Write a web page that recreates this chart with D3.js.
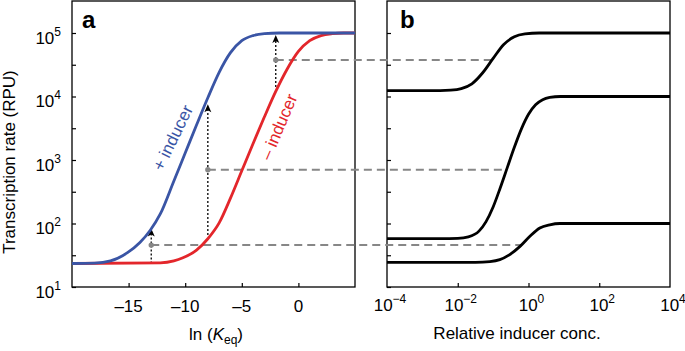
<!DOCTYPE html>
<html>
<head>
<meta charset="utf-8">
<script src="https://cdn.jsdelivr.net/npm/d3@7"></script>
<style>
  body { margin: 0; background: #fff; }
  svg { font-family: "Liberation Sans", Arial, Helvetica, sans-serif; }
</style>
</head>
<body>
<div class="container"></div>
<script>
// panel a curves: ln(Keq) vs log10 transcription rate
const blueLnK = [-20, -18, -16.6, -15.1, -14.0, -13.1, -12.2, -11.0, -10.0, -9.0, -8.0, -7.0, -6.0, -5.0, -4.0, -3.0, -1.7, 5];
const blueLog = [1.37, 1.375, 1.41, 1.54, 1.70, 1.89, 2.15, 2.67, 3.11, 3.55, 3.98, 4.38, 4.69, 4.88, 4.96, 4.99, 5.0, 5.0];
const redLnK = [-20, -12.2, -11.0, -10.2, -9.0, -8.0, -7.0, -6.0, -5.0, -4.0, -3.0, -2.0, -1.0, 0.0, 1.0, 2.0, 3.0, 4.0, 5];
const redLog = [1.37, 1.38, 1.41, 1.46, 1.58, 1.76, 2.01, 2.40, 2.83, 3.26, 3.68, 4.08, 4.43, 4.71, 4.88, 4.96, 4.99, 5.0, 5.0];

// panel b curves: log10 relative inducer conc vs log10 rate
const topConc = [-4, -2.5, -2.2, -1.9, -1.6, -1.3, -1.0, -0.7, -0.4, -0.1, 0.3, 4];
const topLog = [4.093, 4.094, 4.10, 4.125, 4.20, 4.37, 4.60, 4.82, 4.94, 4.985, 5.0, 5.0];
const midConc = [-4, -2.5, -2.0, -1.7, -1.4, -1.2, -1.0, -0.8, -0.6, -0.4, -0.2, 0.0, 0.2, 0.4, 0.6, 0.9, 4];
const midLog = [1.761, 1.762, 1.767, 1.79, 1.88, 2.03, 2.26, 2.56, 2.88, 3.20, 3.49, 3.72, 3.87, 3.95, 3.985, 4.0, 4.0];
const lowConc = [-4, -1.5, -1.09, -0.81, -0.53, -0.24, 0.04, 0.32, 0.60, 0.89, 4];
const lowLog = [1.388, 1.389, 1.40, 1.43, 1.51, 1.64, 1.80, 1.93, 1.98, 2.0, 2.0];

// dashed links and dotted arrows
const linkLnK = [-2, -8, -13];
const linkLog = [4.575, 2.846, 1.66];
const linkConc = [-1.03, -0.62, -0.21];
const arrowFrom = [4.15, 1.82, 1.37];
const arrowTo = [4.97, 3.876, 1.92];

// ticks
const lnkTicks = [-15, -10, -5, 0];
const yMajor = [1, 2, 3, 4, 5];
const yMinor = [1, 1.5, 2, 2.5, 3, 3.5, 4, 4.5, 5];
const concTicks = [-4, -2, 0, 2, 4];

const width = 685, height = 351;
const plotTop = 1, plotBottom = 287;
const aLeft = 72, aRight = 355, bLeft = 387, bRight = 670;

const svg = d3.select(".container").append("svg")
    .attr("width", width)
    .attr("height", height);

const yScale = d3.scaleLog().domain([10, 1e5]).range([plotBottom, 33]);
const xA = d3.scaleLinear().domain([-20, 5]).range([aLeft, aRight]);
const xB = d3.scaleLog().domain([1e-4, 1e4]).range([bLeft, bRight]);

const p10 = v => Math.pow(10, v);

// axes with inward ticks
function yAxisAt(x) {
    const g = svg.append("g")
        .attr("transform", `translate(${x},0)`)
        .call(d3.axisLeft(yScale).tickValues(yMinor.map(p10)).tickSize(-4).tickSizeOuter(0).tickFormat(""));
    g.select(".domain").remove();
    g.selectAll("line").attr("stroke", "#000").attr("stroke-width", 1.2);
}
yAxisAt(aLeft);
yAxisAt(bLeft);

const xAxisA = svg.append("g")
    .attr("transform", `translate(0,${plotBottom})`)
    .call(d3.axisBottom(xA).tickValues(lnkTicks).tickSize(-4).tickSizeOuter(0).tickFormat(""));
xAxisA.select(".domain").remove();
xAxisA.selectAll("line").attr("stroke", "#000").attr("stroke-width", 1.2);

const xAxisB = svg.append("g")
    .attr("transform", `translate(0,${plotBottom})`)
    .call(d3.axisBottom(xB).tickValues(concTicks.slice(1, -1).map(p10)).tickSize(-4).tickSizeOuter(0).tickFormat(""));
xAxisB.select(".domain").remove();
xAxisB.selectAll("line").attr("stroke", "#000").attr("stroke-width", 1.2);

// frames
[[aLeft, aRight], [bLeft, bRight]].forEach(([l, r]) => {
    svg.append("rect")
        .attr("x", l).attr("y", plotTop)
        .attr("width", r - l).attr("height", plotBottom - plotTop)
        .attr("fill", "none").attr("stroke", "#000").attr("stroke-width", 1.3);
});

// tick labels
svg.selectAll(".ylab")
    .data(yMajor)
    .enter()
    .append("text")
    .attr("class", "ylab")
    .attr("x", 61)
    .attr("y", d => yScale(p10(d)) + 10.5)
    .attr("text-anchor", "end")
    .attr("font-size", 17)
    .each(function(d) {
        const t = d3.select(this);
        t.append("tspan").text("10");
        t.append("tspan").attr("dy", -8).attr("font-size", 12).text(d);
    });

svg.selectAll(".xlabA")
    .data(lnkTicks)
    .enter()
    .append("text")
    .attr("x", d => xA(d))
    .attr("y", 312)
    .attr("text-anchor", "middle")
    .attr("font-size", 17)
    .text(d => d < 0 ? "\u2013" + Math.abs(d) : d);

svg.selectAll(".xlabB")
    .data(concTicks)
    .enter()
    .append("text")
    .attr("x", d => xB(p10(d)) + 3)
    .attr("y", 311)
    .attr("text-anchor", "middle")
    .attr("font-size", 17)
    .each(function(d) {
        const t = d3.select(this);
        t.append("tspan").text("10");
        t.append("tspan").attr("dy", -8).attr("font-size", 12).text(d < 0 ? "\u2212" + Math.abs(d) : d);
    });

// axis titles
const xt = svg.append("text")
    .attr("x", 216).attr("y", 340)
    .attr("text-anchor", "middle")
    .attr("font-size", 17);
xt.append("tspan").text("ln (");
xt.append("tspan").attr("font-style", "italic").text("K");
xt.append("tspan").attr("dy", 4).attr("font-size", 12).text("eq");
xt.append("tspan").attr("dy", -4).text(")");

svg.append("text")
    .attr("x", 517).attr("y", 339)
    .attr("text-anchor", "middle")
    .attr("font-size", 17)
    .text("Relative inducer conc.");

svg.append("text")
    .attr("transform", "translate(15,162) rotate(-90)")
    .attr("text-anchor", "middle")
    .attr("font-size", 17)
    .text("Transcription rate (RPU)");

svg.append("text").attr("x", 82).attr("y", 28)
    .attr("font-size", 24).attr("font-weight", "bold").text("a");
svg.append("text").attr("x", 400).attr("y", 28)
    .attr("font-size", 24).attr("font-weight", "bold").text("b");

// dashed links from panel a to panel b
linkLnK.forEach((k, i) => {
    svg.append("line")
        .attr("x1", xA(k)).attr("x2", xB(p10(linkConc[i])))
        .attr("y1", yScale(p10(linkLog[i]))).attr("y2", yScale(p10(linkLog[i])))
        .attr("stroke", "#878787").attr("stroke-width", 2)
        .attr("stroke-dasharray", "8,5");
});

// dotted arrows
linkLnK.forEach((k, i) => {
    const x = xA(k);
    const y0 = yScale(p10(arrowFrom[i]));
    const y1 = yScale(p10(arrowTo[i]));
    svg.append("line")
        .attr("x1", x).attr("x2", x)
        .attr("y1", y0).attr("y2", y1 + 5)
        .attr("stroke", "#000").attr("stroke-width", 1.3)
        .attr("stroke-dasharray", "2,2");
    svg.append("path")
        .attr("d", `M${x},${y1} L${x - 3.5},${y1 + 8} L${x},${y1 + 6} L${x + 3.5},${y1 + 8} Z`)
        .attr("fill", "#000");
});

// curves
const lineA = d3.line().x(d => xA(d[0])).y(d => yScale(p10(d[1]))).curve(d3.curveMonotoneX);
const lineB = d3.line().x(d => xB(p10(d[0]))).y(d => yScale(p10(d[1]))).curve(d3.curveMonotoneX);

svg.append("path")
    .attr("d", lineA(d3.zip(redLnK, redLog)))
    .attr("fill", "none").attr("stroke", "#e3262b").attr("stroke-width", 2.8);
svg.append("path")
    .attr("d", lineA(d3.zip(blueLnK, blueLog)))
    .attr("fill", "none").attr("stroke", "#3a55a5").attr("stroke-width", 2.8);

[[topConc, topLog], [midConc, midLog], [lowConc, lowLog]].forEach(([c, v]) => {
    svg.append("path")
        .attr("d", lineB(d3.zip(c, v)))
        .attr("fill", "none").attr("stroke", "#000").attr("stroke-width", 2.8);
});

// gray dots at link starts
svg.selectAll(".dot")
    .data(linkLnK)
    .enter()
    .append("circle")
    .attr("cx", d => xA(d))
    .attr("cy", (d, i) => yScale(p10(linkLog[i])))
    .attr("r", 2.7)
    .attr("fill", "#878787");

// curve labels
svg.append("text")
    .attr("transform", "translate(173,138) rotate(-64)")
    .attr("text-anchor", "middle").attr("dominant-baseline", "central")
    .attr("font-size", 17).attr("fill", "#3a55a5")
    .text("+ inducer");
svg.append("text")
    .attr("transform", "translate(279,127) rotate(-67)")
    .attr("text-anchor", "middle").attr("dominant-baseline", "central")
    .attr("font-size", 17).attr("fill", "#e3262b")
    .text("\u2013 inducer");
</script>
</body>
</html>
